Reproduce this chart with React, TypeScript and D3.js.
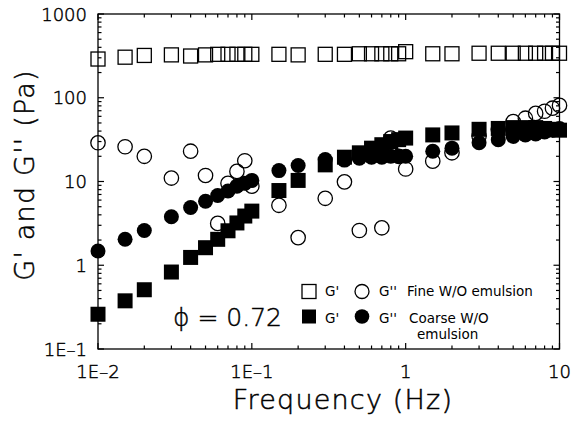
import React from "react";
import * as d3 from "d3";

// Frequency sweeps (Hz)
const freq = [
  0.01, 0.015, 0.02, 0.03, 0.04, 0.05, 0.06, 0.07, 0.08, 0.09, 0.1, 0.15, 0.2,
  0.3, 0.4, 0.5, 0.6, 0.7, 0.8, 0.9, 1.0, 1.5, 2, 3, 4, 5, 6, 7, 8, 9, 10,
];

// Fine W/O emulsion
const fineGp = [
  290, 305, 320, 325, 315, 325, 330, 330, 330, 330, 330, 330, 325, 330, 330,
  335, 335, 335, 335, 335, 355, 335, 335, 340, 340, 340, 340, 340, 340, 340, 340,
];
const fineGpp = [
  29, 26, 20, 11, 23, 11.8, 3.16, 9.5, 13.2, 17.7, 8.8, 5.2, 2.14, 6.3, 9.9,
  2.6, 20, 2.8, 33, 20, 14.1, 17.5, 22, 35, 42, 52, 57, 65, 69, 75, 81,
];

// Coarse W/O emulsion
const coarseGp = [
  0.26, 0.376, 0.51, 0.83, 1.24, 1.62, 2.04, 2.58, 3.2, 3.87, 4.43, 7.8, 10.3,
  15.8, 19.5, 22, 25, 27.5, 30, 31.6, 33, 36, 38, 42, 43, 44, 44, 44, 43, 42, 41,
];
const coarseGpp = [
  1.48, 2.04, 2.6, 3.8, 4.9, 5.8, 6.8, 7.7, 8.8, 9.5, 10.3, 13.5, 15.5, 18.3,
  18, 19, 19.5, 19.5, 20, 20, 20, 23, 25, 29, 31.6, 34.5, 36, 37, 39, 41, 43,
];

const xTickLabels = ["1E\u20132", "1E\u20131", "1", "10"];
const yTickLabels = ["1E\u20131", "1", "10", "100", "1000"];

const W = 572;
const H = 424;
const L = 98;
const R = 559.5;
const T = 14;
const B = 349;

const FONT = "'DejaVu Sans', sans-serif";

export default function App() {
  const x = d3.scaleLog().domain([0.01, 10]).range([L, R]);
  const y = d3.scaleLog().domain([0.1, 1000]).range([B, T]);

  const isMajor = (v: number) => Math.abs(Math.log10(v) - Math.round(Math.log10(v))) < 1e-6;
  const xTicks = x.ticks();
  const yTicks = y.ticks();
  const xMajor = xTicks.filter(isMajor);
  const yMajor = yTicks.filter(isMajor);

  const MAJ = 6;
  const MIN = 3.5;

  const openSq = 14;
  const fillSq = 15;
  const openR = 7.2;
  const fillR = 7.5;

  const thin = { fontFamily: FONT, fontWeight: 300, fill: "#000", stroke: "#000" };

  return (
    <svg
      width={W}
      height={H}
      viewBox={`0 0 ${W} ${H}`}
      style={{ position: "absolute", left: 0, top: 0, background: "#fff" }}
    >
      <rect x={0} y={0} width={W} height={H} fill="#fff" />

      {/* frame */}
      <rect x={L} y={T} width={R - L} height={B - T} fill="none" stroke="#000" strokeWidth={1.3} />

      {/* ticks, pointing inward on all four sides */}
      {xTicks.map((t, i) => {
        const len = isMajor(t) ? MAJ : MIN;
        const px = x(t);
        return (
          <g key={"xt" + i} stroke="#000" strokeWidth={1.2}>
            <line x1={px} x2={px} y1={B} y2={B - len} />
            <line x1={px} x2={px} y1={T} y2={T + len} />
          </g>
        );
      })}
      {yTicks.map((t, i) => {
        const len = isMajor(t) ? MAJ : MIN;
        const py = y(t);
        return (
          <g key={"yt" + i} stroke="#000" strokeWidth={1.2}>
            <line x1={L} x2={L + len} y1={py} y2={py} />
            <line x1={R} x2={R - len} y1={py} y2={py} />
          </g>
        );
      })}

      {/* tick labels */}
      {xMajor.map((t, i) => (
        <text
          key={"xl" + i}
          x={x(t)}
          y={378}
          textAnchor="middle"
          fontSize={18}
          strokeWidth={0.45}
          {...thin}
        >
          {xTickLabels[i]}
        </text>
      ))}
      {yMajor.map((t, i) => (
        <text
          key={"yl" + i}
          x={87}
          y={y(t) + 6.5}
          textAnchor="end"
          fontSize={18}
          strokeWidth={0.45}
          {...thin}
        >
          {yTickLabels[i]}
        </text>
      ))}

      {/* axis titles */}
      <text
        x={343}
        y={408.5}
        textAnchor="middle"
        fontSize={27}
        letterSpacing={1.2}
        strokeWidth={0.5}
        {...thin}
      >
        Frequency (Hz)
      </text>
      <text
        transform="translate(34,175) rotate(-90)"
        textAnchor="middle"
        fontSize={27}
        letterSpacing={1.2}
        strokeWidth={0.5}
        {...thin}
      >
        G' and G'' (Pa)
      </text>

      {/* fine: open squares (G') */}
      {freq.map((f, i) => (
        <rect
          key={"fgp" + i}
          x={x(f) - openSq / 2}
          y={y(fineGp[i]) - openSq / 2}
          width={openSq}
          height={openSq}
          fill="none"
          stroke="#000"
          strokeWidth={1.3}
        />
      ))}
      {/* fine: open circles (G'') */}
      {freq.map((f, i) => (
        <circle
          key={"fgpp" + i}
          cx={x(f)}
          cy={y(fineGpp[i])}
          r={openR}
          fill="none"
          stroke="#000"
          strokeWidth={1.3}
        />
      ))}
      {/* coarse: filled squares (G') */}
      {freq.map((f, i) => (
        <rect
          key={"cgp" + i}
          x={x(f) - fillSq / 2}
          y={y(coarseGp[i]) - fillSq / 2}
          width={fillSq}
          height={fillSq}
          fill="#000"
        />
      ))}
      {/* coarse: filled circles (G'') */}
      {freq.map((f, i) => (
        <circle key={"cgpp" + i} cx={x(f)} cy={y(coarseGpp[i])} r={fillR} fill="#000" />
      ))}

      {/* volume fraction */}
      <text x={173} y={326} fontSize={25} strokeWidth={0.45} {...thin}>
        {"\u03D5 = 0.72"}
      </text>

      {/* legend */}
      <g fontFamily={FONT} fontSize={13.5} fill="#000">
        <rect x={302} y={284.5} width={14} height={14} fill="none" stroke="#000" strokeWidth={1.3} />
        <text x={325} y={296}>G'</text>
        <circle cx={362} cy={291.5} r={7} fill="none" stroke="#000" strokeWidth={1.3} />
        <text x={379} y={296}>G''</text>
        <text x={407} y={296}>Fine W/O emulsion</text>

        <rect x={302} y={309.5} width={14} height={14} fill="#000" />
        <text x={325} y={323}>G'</text>
        <circle cx={362} cy={316.5} r={7.3} fill="#000" />
        <text x={379} y={323}>G''</text>
        <text x={409} y={323}>Coarse W/O</text>
        <text x={417} y={339}>emulsion</text>
      </g>
    </svg>
  );
}
